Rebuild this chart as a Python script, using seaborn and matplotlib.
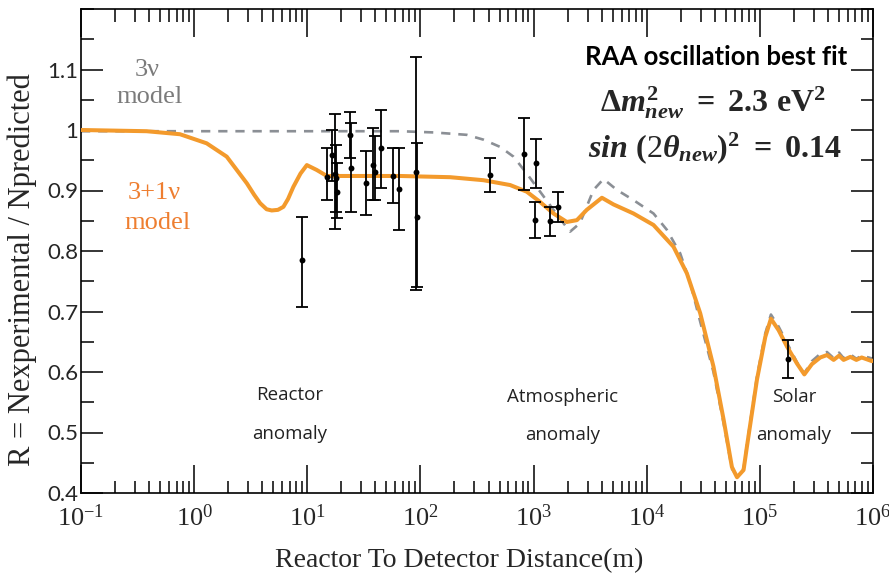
import matplotlib
matplotlib.use("Agg")
import matplotlib.pyplot as plt
import seaborn as sns
from matplotlib.ticker import FixedLocator, LogLocator, NullFormatter, MultipleLocator

# ---------------- data ----------------
# 3+1 nu model (orange, solid)
dist_3p1 = [0.1, 0.38, 0.75, 1.29, 1.94, 2.92, 3.39, 3.83, 4.37, 4.85, 5.5, 6.15, 6.76,
            7.53, 8.71, 9.91, 12.1, 14.9, 31.6, 66, 183, 361, 621, 871, 1143, 1500,
            1968, 2415, 2951, 4018, 5082, 7638, 11480, 17260, 22650, 29720, 38900,
            47860, 56620, 62810, 71780, 76910, 94190, 111700, 125300, 146600, 173800,
            212800, 247200, 288400, 342000, 391700, 448700, 501200, 549500, 631000,
            712900, 794300, 977200, 1000000]
ratio_3p1 = [1.000, 0.998, 0.993, 0.978, 0.956, 0.912, 0.893, 0.879, 0.869, 0.867, 0.868,
             0.873, 0.886, 0.906, 0.928, 0.942, 0.934, 0.924, 0.924, 0.924, 0.922, 0.917,
             0.909, 0.898, 0.881, 0.862, 0.848, 0.851, 0.868, 0.888, 0.877, 0.862, 0.843,
             0.807, 0.763, 0.697, 0.609, 0.521, 0.443, 0.426, 0.438, 0.477, 0.587, 0.658,
             0.688, 0.669, 0.642, 0.614, 0.596, 0.613, 0.624, 0.628, 0.620, 0.627, 0.620,
             0.625, 0.620, 0.624, 0.618, 0.619]

# 3 nu model (grey, dashed)
dist_3nu = [0.1, 1.0, 10, 66, 130, 257, 361, 507, 664, 871, 1143, 1500, 1837, 2104, 2570,
            3388, 4150, 5445, 7656, 11480, 15070, 19770, 24270, 29720, 38900, 47860,
            56620, 62810, 71780, 76910, 94190, 111700, 125300, 146600, 173800, 212800,
            247200, 288400, 342000, 391700, 448700, 501200, 549500, 631000, 712900,
            794300, 1000000]
ratio_3nu = [0.998, 0.998, 0.998, 0.998, 0.996, 0.992, 0.984, 0.972, 0.956, 0.928, 0.898,
             0.868, 0.846, 0.832, 0.846, 0.901, 0.919, 0.901, 0.884, 0.862, 0.835, 0.796,
             0.747, 0.683, 0.600, 0.515, 0.440, 0.428, 0.440, 0.480, 0.592, 0.664, 0.695,
             0.675, 0.648, 0.616, 0.598, 0.618, 0.630, 0.633, 0.623, 0.632, 0.623, 0.629,
             0.622, 0.627, 0.622]

# experimental points
data_dist = [8.9, 14.9, 16.5, 17.5, 18.0, 18.3, 23.9, 24.5, 33, 38, 40, 45, 57, 65,
             92, 94, 413, 826, 1054, 1040, 1403, 1660, 177000]
data_ratio = [0.785, 0.923, 0.958, 0.928, 0.920, 0.898, 0.992, 0.937, 0.912, 0.942,
              0.931, 0.970, 0.924, 0.902, 0.931, 0.857, 0.926, 0.960, 0.945, 0.851,
              0.850, 0.872, 0.621]
data_lo = [0.708, 0.884, 0.915, 0.836, 0.865, 0.855, 0.953, 0.865, 0.860, 0.884, 0.885,
           0.904, 0.879, 0.835, 0.735, 0.740, 0.898, 0.901, 0.904, 0.821, 0.824, 0.848, 0.590]
data_hi = [0.857, 0.970, 1.000, 1.026, 0.975, 0.945, 1.030, 1.011, 0.965, 1.003, 0.990,
           1.033, 0.970, 0.970, 1.120, 0.978, 0.953, 1.020, 0.985, 0.881, 0.873, 0.898, 0.653]

y_ticks = [0.4, 0.5, 0.6, 0.7, 0.8, 0.9, 1.0, 1.1]
y_tick_labels = ["0.4", "0.5", "0.6", "0.7", "0.8", "0.9", "1", "1.1"]
x_ticks = [1e-1, 1e0, 1e1, 1e2, 1e3, 1e4, 1e5, 1e6]
x_tick_labels = [r"$10^{-1}$", r"$10^{0}$", r"$10^{1}$", r"$10^{2}$", r"$10^{3}$",
                 r"$10^{4}$", r"$10^{5}$", r"$10^{6}$"]

region_labels = ["Reactor\n\nanomaly", "Atmospheric\n\nanomaly", "Solar\n\nanomaly"]

# ---------------- style ----------------
sns.set_style("ticks")
plt.rcParams["font.family"] = ["Liberation Serif", "DejaVu Serif"]
plt.rcParams["mathtext.fontset"] = "custom"
plt.rcParams["mathtext.rm"] = "Liberation Serif"
plt.rcParams["mathtext.it"] = "Liberation Serif:italic:bold"
plt.rcParams["mathtext.bf"] = "Liberation Serif:bold"

ORANGE = "#f39a2c"
ORANGE_TXT = "#ee7e30"
GREY = "#8b8f95"
GREY_TXT = "#7b7b7b"

fig = plt.figure(figsize=(8.89, 5.83), dpi=100)
ax = fig.add_axes([81 / 889, 1 - 493 / 583, 792 / 889, 484 / 583])

sns.lineplot(x=dist_3nu, y=ratio_3nu, ax=ax, color=GREY, lw=1.9,
             linestyle=(0, (3.5, 3.0)), estimator=None, sort=False, zorder=2)
sns.lineplot(x=dist_3p1, y=ratio_3p1, ax=ax, color=ORANGE, lw=2.9,
             estimator=None, sort=False, zorder=3)

yerr = [[r - l for r, l in zip(data_ratio, data_lo)],
        [h - r for r, h in zip(data_ratio, data_hi)]]
ax.errorbar(data_dist, data_ratio, yerr=yerr, fmt="none", ecolor="black",
            elinewidth=1.3, capsize=4.5, capthick=1.3, zorder=4)
sns.scatterplot(x=data_dist, y=data_ratio, ax=ax, color="black", s=18,
                edgecolor="black", linewidth=0, zorder=5)

ax.set_xscale("log")
ax.set_xlim(0.1, 1e6)
ax.set_ylim(0.4, 1.2)

ax.xaxis.set_major_locator(FixedLocator(x_ticks))
ax.set_xticklabels(x_tick_labels, fontsize=19)
ax.xaxis.set_minor_locator(LogLocator(base=10, subs=range(2, 10), numticks=20))
ax.xaxis.set_minor_formatter(NullFormatter())
ax.yaxis.set_major_locator(FixedLocator(y_ticks))
ax.set_yticklabels(y_tick_labels, fontsize=16, family="Lato")
ax.yaxis.set_minor_locator(MultipleLocator(0.05))

ax.tick_params(which="both", direction="in", top=True, right=True, width=1.1, color="black")
ax.tick_params(axis="x", which="major", length=20, pad=8)
ax.tick_params(axis="x", which="minor", length=9)
ax.tick_params(axis="y", which="major", length=16, pad=2)
ax.tick_params(axis="y", which="minor", length=9)
for sp in ax.spines.values():
    sp.set_visible(True)
    sp.set_linewidth(1.2)
    sp.set_color("black")

ax.set_xlabel("Reactor To Detector Distance(m)", fontsize=20)
ax.set_ylabel("R = Nexperimental / Npredicted", fontsize=22)
ax.xaxis.set_label_coords(0.477, -0.113)
ax.yaxis.set_label_coords(-0.056, 0.461)

# model labels
ax.text(0.083, 0.874, "3ν", transform=ax.transAxes, ha="center", va="center",
        fontsize=19, color=GREY_TXT)
ax.text(0.087, 0.818, "model", transform=ax.transAxes, ha="center", va="center",
        fontsize=19, color=GREY_TXT)
ax.text(0.092, 0.620, "3+1ν", transform=ax.transAxes, ha="center", va="center",
        fontsize=19, color=ORANGE_TXT)
ax.text(0.096, 0.558, "model", transform=ax.transAxes, ha="center", va="center",
        fontsize=19, color=ORANGE_TXT)

# best fit box
ax.text(0.802, 0.901, "RAA oscillation best fit", transform=ax.transAxes, ha="center",
        va="center", fontsize=18.5, fontweight="bold", family="Lato", color="black")
ax.text(0.798, 0.806, r"$\mathbf{\Delta}m^{\mathbf{2}}_{new}\ \mathbf{=\ 2.3\ eV^{2}}$",
        transform=ax.transAxes, ha="center", va="center", fontsize=23)
ax.text(0.800, 0.713,
        r"$sin\ \mathbf{(}\mathit{2}\theta_{new}\mathbf{)}^{\mathbf{2}}\ \mathbf{=\ 0.14}$",
        transform=ax.transAxes, ha="center", va="center", fontsize=23)

# region labels
for lab, (fx, fy) in zip(region_labels, [(0.263, 0.162), (0.608, 0.159), (0.900, 0.159)]):
    ax.text(fx, fy, lab, transform=ax.transAxes, ha="center", va="center",
            fontsize=13.5, family="Open Sans", color="#222222", linespacing=1.1)

fig.savefig("out.png", dpi=100)
